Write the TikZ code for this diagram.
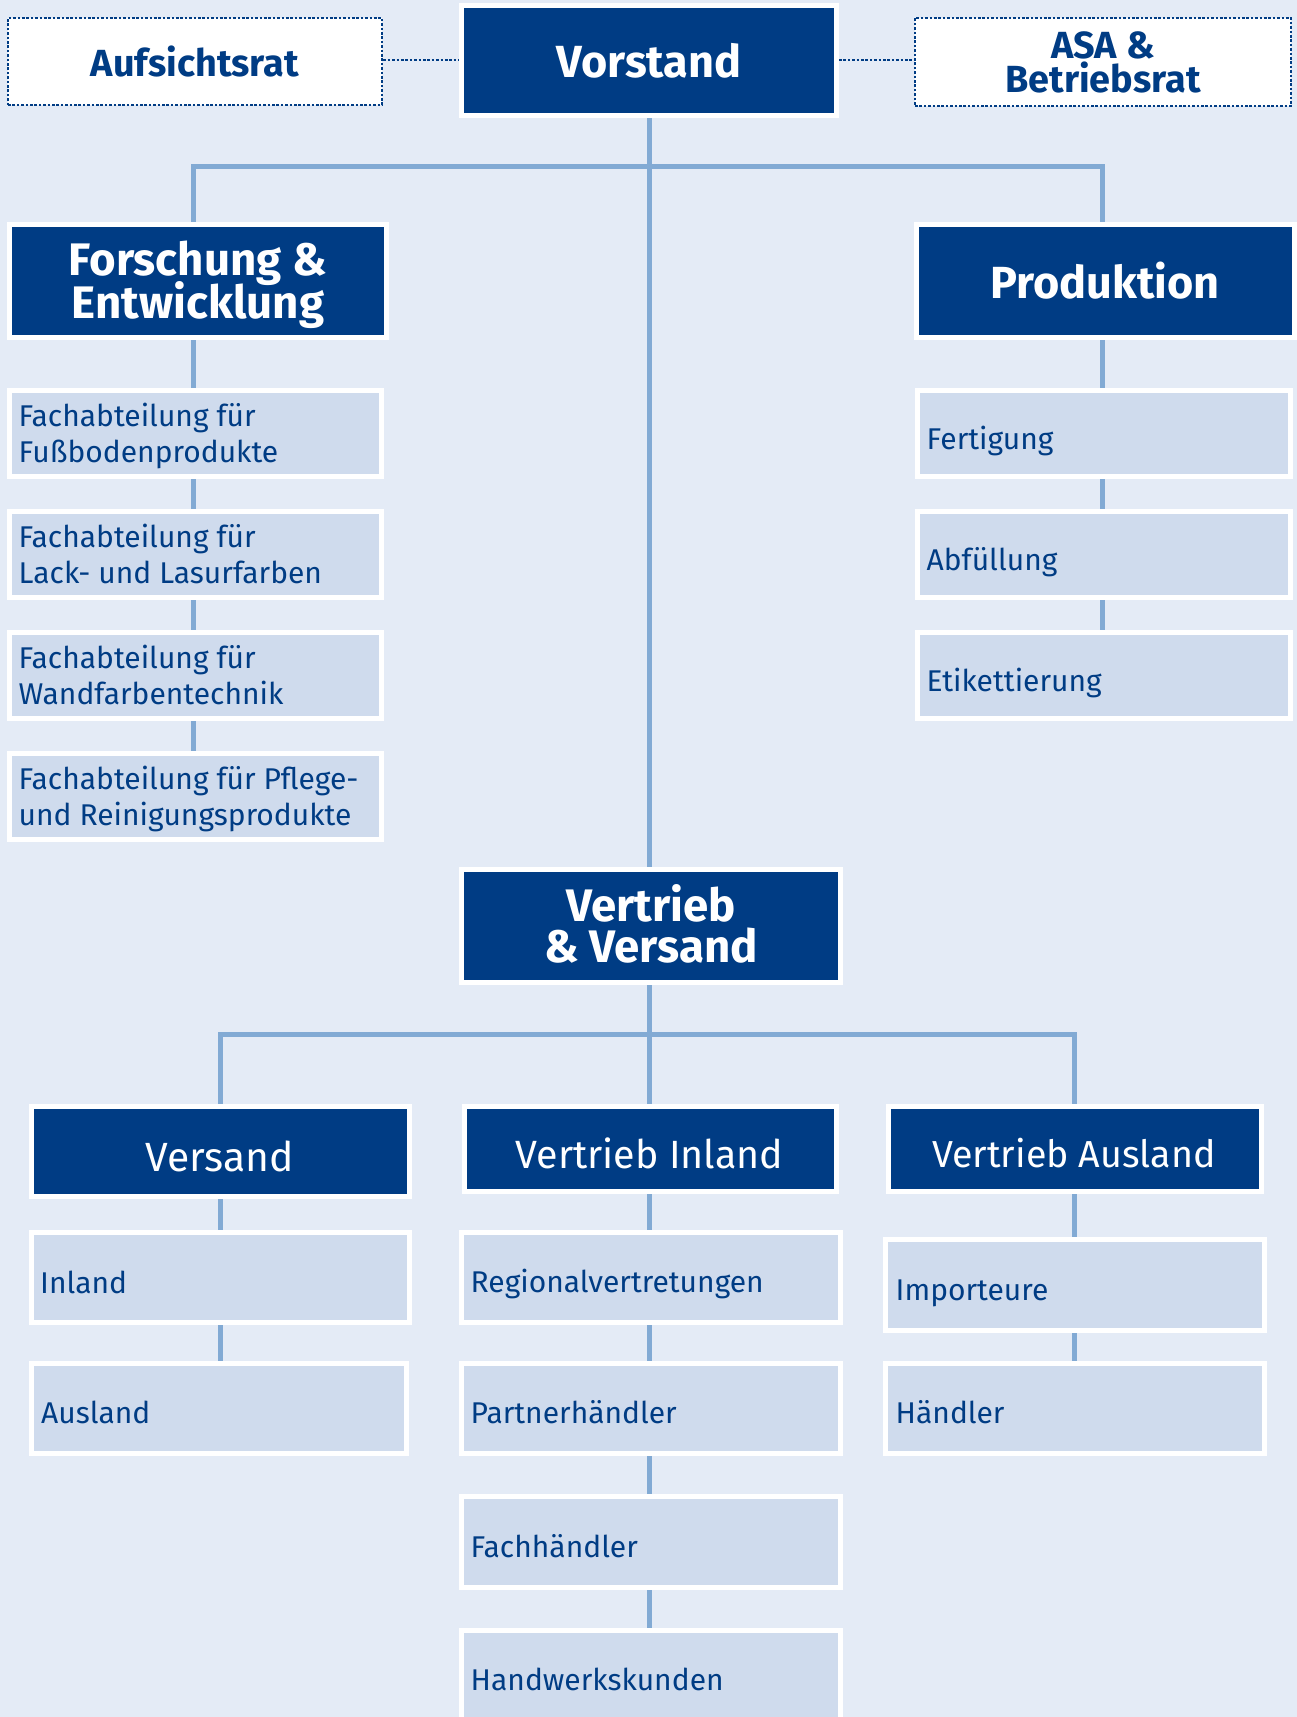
\documentclass[tikz,border=0pt]{standalone}
\usepackage{fontspec}
\setmainfont{Fira Sans}
\pgfdeclarelayer{bg}
\pgfdeclarelayer{lines}
\pgfsetlayers{bg,lines,main}
\definecolor{dkblue}{RGB}{0,60,132}
\definecolor{ltfill}{RGB}{207,219,237}
\definecolor{bgblue}{RGB}{228,235,246}
\definecolor{lineblue}{RGB}{130,170,212}
\newcommand\fHdrA{\fontsize{45}{49}\selectfont\bfseries}
\newcommand\fHdrB{\fontsize{45.6}{49}\selectfont\bfseries}
\newcommand\fTop{\fontsize{37.8}{41}\selectfont\bfseries}
\newcommand\fSub{\fontsize{30}{35}\selectfont}
% two centred lines with a fixed baseline distance; the box's baseline is the last line's
\newcommand\twoln[3]{\vbox{\baselineskip=#1\lineskiplimit=-100pt\lineskip=0pt
  \hbox to 300pt{\hss#2\hss}\hbox to 300pt{\hss#3\hss}}}
\begin{document}
\begin{tikzpicture}[x=1pt,y=-1pt,
  hdr/.style={fill=dkblue, draw=white, line width=5pt, inner sep=0pt},
  subbox/.style={fill=ltfill, draw=white, line width=5pt, inner sep=0pt},
  dotbox/.style={fill=white, draw=dkblue, line width=2.6pt, dash pattern=on 2.6pt off 1.8pt, inner sep=0pt},
  conn/.style={draw=lineblue, line width=5pt},
  dotconn/.style={draw=dkblue, line width=2.6pt, dash pattern=on 2.6pt off 1.8pt},
  wt/.style={inner sep=0pt, anchor=base, text=white},
  bt/.style={inner sep=0pt, anchor=base, text=dkblue},
  st/.style={inner sep=0pt, anchor=base west, text=dkblue, font=\fSub},
]
\useasboundingbox (0,0) rectangle (1297,1717);
\begin{pgfonlayer}{bg}
\fill[bgblue] (0,0) rectangle (1297,1717);
\end{pgfonlayer}

% helper coordinates
\coordinate (xL) at (193.5,0);
\coordinate (xR) at (1102,0);
\coordinate (xC) at (649,0);
\coordinate (xBL) at (220,0);
\coordinate (xBR) at (1074,0);
\coordinate (yT) at (0,166);
\coordinate (yB) at (0,1034);
\coordinate (yD) at (0,60);

% top row
\node[dotbox, minimum width=374pt, minimum height=87pt] (auf) at (195,61.5) {};
\node[hdr, minimum width=375pt, minimum height=110pt] (vor) at (649,60.5) {};
\node[dotbox, minimum width=376pt, minimum height=88pt] (asa) at (1103,62) {};
\node[bt, font=\fTop] (auf-t) at (195,76) {Aufsichtsrat};
\node[wt, font=\fHdrA] (vor-t) at (649,77) {Vorstand};
\node[bt, font=\fTop] (asa-t) at (1103,92) {\twoln{34pt}{ASA \&}{Betriebsrat}};

% second level
\node[hdr, minimum width=377pt, minimum height=113pt] (fe) at (198,281) {};
\node[wt, font=\fHdrB] (fe-t) at (198,318) {\twoln{43pt}{Forschung \&}{Entwicklung}};
\node[hdr, minimum width=378pt, minimum height=113pt] (prod) at (1105.5,281) {};
\node[wt, font=\fHdrA] (prod-t) at (1105,298) {Produktion};

% F&E departments
\node[subbox, minimum width=372pt, minimum height=86pt] (fa1) at (195.5,433.5) {};
\node[subbox, minimum width=372pt, minimum height=86pt] (fa2) at (195.5,554.5) {};
\node[subbox, minimum width=372pt, minimum height=86pt] (fa3) at (195.5,675.5) {};
\node[subbox, minimum width=372pt, minimum height=86pt] (fa4) at (195.5,796.5) {};
\node[st] (fa1-t1) at (18.5,426.5) {Fachabteilung für};
\node[st] (fa1-t2) at (18.5,462) {Fußbodenprodukte};
\node[st] (fa2-t1) at (18.5,547.5) {Fachabteilung für};
\node[st] (fa2-t2) at (18.5,583) {Lack- und Lasurfarben};
\node[st] (fa3-t1) at (18.5,668.5) {Fachabteilung für};
\node[st] (fa3-t2) at (18.5,704) {Wandfarbentechnik};
\node[st] (fa4-t1) at (18.5,789.5) {Fachabteilung für Pflege-};
\node[st] (fa4-t2) at (18.5,825) {und Reinigungsprodukte};

% Produktion departments
\node[subbox, minimum width=373pt, minimum height=86pt] (fert) at (1104,433.5) {};
\node[subbox, minimum width=373pt, minimum height=86pt] (abf) at (1104,554.5) {};
\node[subbox, minimum width=373pt, minimum height=86pt] (etik) at (1104,675.5) {};
\node[st] (fert-t) at (926.5,449) {Fertigung};
\node[st] (abf-t) at (926.5,570) {Abfüllung};
\node[st] (etik-t) at (926.5,691) {Etikettierung};

% Vertrieb & Versand
\node[hdr, minimum width=379pt, minimum height=113pt] (vv) at (651,926) {};
\node[wt, font=\fHdrB] (vv-t) at (651,962) {\twoln{41pt}{Vertrieb}{\& Versand}};

% third level headers
\node[hdr, minimum width=378pt, minimum height=90pt] (vers) at (220.5,1151.5) {};
\node[hdr, minimum width=372pt, minimum height=85pt] (vi) at (650.5,1149) {};
\node[hdr, minimum width=373pt, minimum height=85pt] (va) at (1075,1149) {};
\node[wt, font=\fontsize{40.8}{44}\selectfont] (vers-t) at (220,1171) {Versand};
\node[wt, font=\fontsize{39.4}{43}\selectfont] (vi-t) at (649.5,1168) {Vertrieb Inland};
\node[wt, font=\fontsize{37.6}{41}\selectfont] (va-t) at (1074,1167) {Vertrieb Ausland};

% Versand subs
\node[subbox, minimum width=378pt, minimum height=90pt] (inl) at (220.5,1277.5) {};
\node[subbox, minimum width=375pt, minimum height=90pt] (ausl) at (219,1408.5) {};
\node[st] (inl-t) at (40,1293) {Inland};
\node[st] (ausl-t) at (41,1423) {Ausland};

% Vertrieb Inland subs
\node[subbox, minimum width=379pt, minimum height=90pt] (reg) at (651,1277.5) {};
\node[subbox, minimum width=379pt, minimum height=90pt] (part) at (651,1408.5) {};
\node[subbox, minimum width=379pt, minimum height=91pt] (fach) at (651,1542) {};
\node[subbox, minimum width=379pt, minimum height=90pt] (hand) at (651,1675.5) {};
\node[st] (reg-t) at (470.5,1292.5) {Regionalvertretungen};
\node[st] (part-t) at (470.5,1423) {Partnerhändler};
\node[st] (fach-t) at (470.5,1557) {Fachhändler};
\node[st] (hand-t) at (470.5,1690.5) {Handwerkskunden};

% Vertrieb Ausland subs
\node[subbox, minimum width=379pt, minimum height=91pt] (imp) at (1075,1285) {};
\node[subbox, minimum width=379pt, minimum height=90pt] (hae) at (1075,1408.5) {};
\node[st] (imp-t) at (895.5,1300) {Importeure};
\node[st] (hae-t) at (895.5,1423) {Händler};

\begin{pgfonlayer}{lines}
% dotted links
\draw[dotconn] (auf.east |- yD) -- (vor.west |- yD);
\draw[dotconn] (vor.east |- yD) -- (asa.west |- yD);
% trunk
\draw[conn] (vor.south -| xC) -- (vv.north -| xC);
\draw[conn] (fe.north -| xL) |- (xC |- yT) -| (prod.north -| xR);
% F&E chain
\draw[conn] (fe.south -| xL) -- (fa1.north -| xL);
\draw[conn] (fa1.south -| xL) -- (fa2.north -| xL);
\draw[conn] (fa2.south -| xL) -- (fa3.north -| xL);
\draw[conn] (fa3.south -| xL) -- (fa4.north -| xL);
% Produktion chain
\draw[conn] (prod.south -| xR) -- (fert.north -| xR);
\draw[conn] (fert.south -| xR) -- (abf.north -| xR);
\draw[conn] (abf.south -| xR) -- (etik.north -| xR);
% lower branch
\draw[conn] (vv.south -| xC) -- (vi.north -| xC);
\draw[conn] (vers.north -| xBL) |- (xC |- yB) -| (va.north -| xBR);
% Versand chain
\draw[conn] (vers.south -| xBL) -- (inl.north -| xBL);
\draw[conn] (inl.south -| xBL) -- (ausl.north -| xBL);
% Vertrieb Inland chain
\draw[conn] (vi.south -| xC) -- (reg.north -| xC);
\draw[conn] (reg.south -| xC) -- (part.north -| xC);
\draw[conn] (part.south -| xC) -- (fach.north -| xC);
\draw[conn] (fach.south -| xC) -- (hand.north -| xC);
% Vertrieb Ausland chain
\draw[conn] (va.south -| xBR) -- (imp.north -| xBR);
\draw[conn] (imp.south -| xBR) -- (hae.north -| xBR);
\end{pgfonlayer}
\end{tikzpicture}
\end{document}
